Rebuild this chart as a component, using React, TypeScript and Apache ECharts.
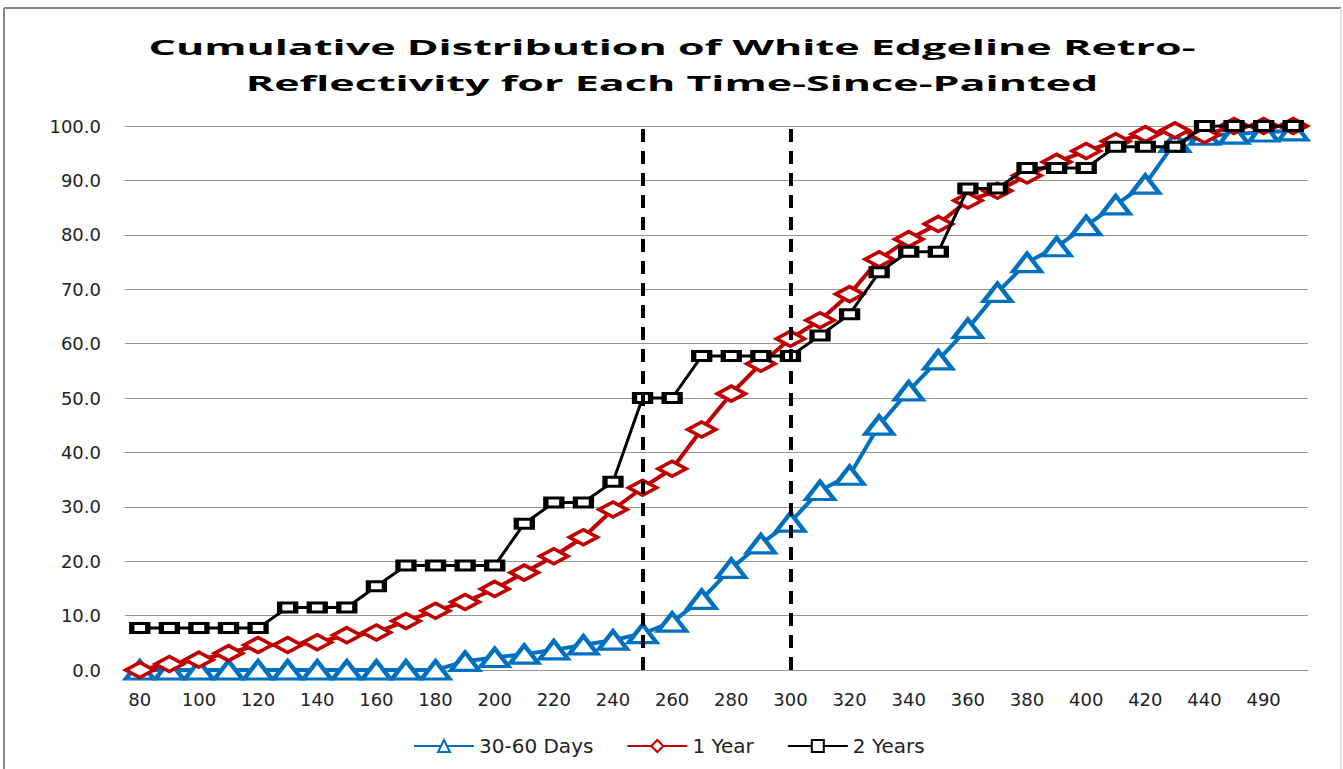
import React, { useEffect, useRef } from "react";
import * as echarts from "echarts";

const categories = [
  "80", "90", "100", "110", "120", "130", "140", "150", "160", "170",
  "180", "190", "200", "210", "220", "230", "240", "250", "260", "270",
  "280", "290", "300", "310", "320", "330", "340", "350", "360", "370",
  "380", "390", "400", "410", "420", "430", "440", "450", "490", "500",
];

const days3060 = [
  0, 0, 0, 0, 0, 0, 0, 0, 0, 0,
  0, 1.6, 2.3, 2.9, 3.7, 4.6, 5.5, 6.7, 8.8, 13.0,
  18.7, 23.2, 27.2, 33.0, 35.8, 45.0, 51.3, 57.0, 62.8, 69.4,
  74.9, 77.8, 81.7, 85.5, 89.3, 97.0, 98.3, 98.5, 98.9, 99.1,
];

const year1 = [
  0, 1.1, 1.9, 3.1, 4.6, 4.6, 5.1, 6.4, 6.9, 9.0,
  10.9, 12.5, 14.9, 17.9, 20.9, 24.4, 29.5, 33.5, 37.0, 44.2,
  50.8, 56.3, 60.9, 64.3, 69.1, 75.5, 79.2, 82.0, 86.3, 88.1,
  90.9, 93.4, 95.4, 97.2, 98.5, 99.2, 98.3, 100, 100, 100,
];

const years2 = [
  7.7, 7.7, 7.7, 7.7, 7.7, 11.5, 11.5, 11.5, 15.4, 19.2,
  19.2, 19.2, 19.2, 26.9, 30.8, 30.8, 34.6, 50.0, 50.0, 57.7,
  57.7, 57.7, 57.7, 61.5, 65.4, 73.1, 76.9, 76.9, 88.5, 88.5,
  92.3, 92.3, 92.3, 96.2, 96.2, 96.2, 100, 100, 100, 100,
];

const referenceLines = ["250", "300"];

const titleText =
  "Cumulative Distribution of White Edgeline Retro-\nReflectivity for Each Time-Since-Painted";

export default function App() {
  const ref = useRef<HTMLDivElement>(null);

  useEffect(() => {
    if (!ref.current) return;
    const chart = echarts.init(ref.current, undefined, { renderer: "svg" });
    const labelFont = "DejaVu Sans";
    const option: any = {
      animation: false,
      backgroundColor: "#ffffff",
      graphic: [
        {
          type: "line",
          shape: { x1: 4, y1: 8, x2: 4, y2: 769 },
          style: { stroke: "#878787", lineWidth: 2 },
          silent: true,
        },
        {
          type: "line",
          shape: { x1: 4, y1: 8, x2: 1341, y2: 8 },
          style: { stroke: "#878787", lineWidth: 2 },
          silent: true,
        },
        {
          type: "line",
          shape: { x1: 1341, y1: 8, x2: 1341, y2: 769 },
          style: { stroke: "#e4e4e4", lineWidth: 2 },
          silent: true,
        },
        {
          type: "text",
          x: 672,
          y: 29,
          scaleX: 2.05,
          style: {
            text: titleText,
            fontFamily: "Open Sans",
            fontWeight: "bold",
            fontSize: 21,
            lineHeight: 36,
            fill: "#000000",
            align: "center",
            verticalAlign: "top",
          },
          silent: true,
        },
      ],
      grid: { left: 125, right: 35, top: 126, bottom: 99, containLabel: false },
      legend: {
        bottom: 8,
        left: 408,
        itemWidth: 60,
        itemHeight: 15,
        itemGap: 33,
        textStyle: { fontFamily: labelFont, fontSize: 20, color: "#222" },
        data: ["30-60 Days", "1 Year", "2 Years"],
      },
      xAxis: {
        type: "category",
        data: categories,
        boundaryGap: true,
        axisLine: { show: true, lineStyle: { color: "#969696", width: 1 } },
        axisTick: { show: false },
        axisLabel: {
          interval: 1,
          margin: 20,
          fontFamily: labelFont,
          fontSize: 18,
          color: "#222",
        },
      },
      yAxis: {
        type: "value",
        min: 0,
        max: 100,
        interval: 10,
        axisLine: { show: false },
        axisTick: { show: false },
        splitLine: { lineStyle: { color: "#969696", width: 1 } },
        axisLabel: {
          margin: 24,
          fontFamily: labelFont,
          fontSize: 18,
          color: "#222",
          formatter: (v: number) => v.toFixed(1),
        },
      },
      series: [
        {
          name: "30-60 Days",
          type: "line",
          data: days3060,
          symbol: "triangle",
          symbolSize: [28, 18],
          lineStyle: { color: "#0070C0", width: 4 },
          itemStyle: { color: "#ffffff", borderColor: "#0070C0", borderWidth: 4 },
          z: 2,
        },
        {
          name: "1 Year",
          type: "line",
          data: year1,
          symbol: "diamond",
          symbolSize: [28, 15],
          lineStyle: { color: "#C00000", width: 4 },
          itemStyle: { color: "#ffffff", borderColor: "#C00000", borderWidth: 4 },
          z: 3,
        },
        {
          name: "2 Years",
          type: "line",
          data: years2,
          symbol: "rect",
          symbolSize: [16, 9],
          lineStyle: { color: "#000000", width: 3 },
          itemStyle: { color: "#ffffff", borderColor: "#000000", borderWidth: 4 },
          z: 4,
          markLine: {
            silent: true,
            symbol: ["none", "none"],
            label: { show: false },
            lineStyle: { color: "#000000", width: 4, type: [13, 9] },
            data: referenceLines.map((c) => [
              { coord: [c, 0] },
              { coord: [c, 100] },
            ]),
            z: 10,
          },
        },
      ],
    };
    chart.setOption(option);
    return () => chart.dispose();
  }, []);

  return (
    <div
      ref={ref}
      style={{ position: "fixed", left: 0, top: 0, width: 1343, height: 769 }}
    />
  );
}
